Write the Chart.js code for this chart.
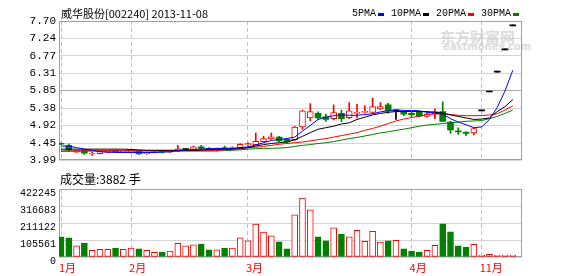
<!DOCTYPE html>
<html>
<head>
<meta charset="utf-8">
<script src="https://cdn.jsdelivr.net/npm/chart.js@4.4.1/dist/chart.umd.min.js"></script>
<style>
  html, body { margin: 0; padding: 0; background: #fff; }
  #wrap { position: relative; width: 578px; height: 276px; overflow: hidden; }
  #priceBox { position: absolute; left: 0; top: 0; }
  #volBox { position: absolute; left: 0; top: 170px; }
  .txt { position: absolute; white-space: nowrap; color: #000; line-height: 1; }
  #title { left: 61px; top: 5px; font: 11px "Noto Sans CJK SC", sans-serif; }
  #volTitle { left: 60px; top: 170px; font: 12px "Noto Sans CJK SC", sans-serif; }
  #legend { position: absolute; left: 352px; top: 9px; display: flex; font: 10px "Liberation Mono", monospace; line-height: 1; }
  #legend .item { display: flex; align-items: center; margin-right: 7px; }
  #legend .item i { display: inline-block; width: 6px; height: 3px; margin-left: 2px; }
  #mark1 { left: 440px; top: 26px; font: bold 15px "Noto Sans CJK SC", sans-serif; color: #dcdcdc; }
  #mark2 { left: 443px; top: 41px; font: bold 10px "DejaVu Sans", sans-serif; color: #dcdcdc; }
</style>
</head>
<body>
<div id="wrap">
  <div class="txt" id="mark1">东方财富网</div>
  <div class="txt" id="mark2">eastmoney.com</div>
  <div id="priceBox"><canvas id="priceChart" width="578" height="170"></canvas></div>
  <div id="volBox"><canvas id="volChart" width="578" height="106"></canvas></div>
  <div class="txt" id="title">威华股份[002240] 2013-11-08</div>
  <div id="legend"></div>
  <div class="txt" id="volTitle">成交量:3882 手</div>
</div>
<script>
// month gridlines sit on these candle indexes
const monthIdx = [0, 9, 24, 45, 54];
const monthLabels = ['1月', '2月', '3月', '4月', '11月'];
const priceTicks = [3.99, 4.45, 4.92, 5.38, 5.85, 6.31, 6.77, 7.24, 7.70];
const volTicks = [0, 105561, 211122, 316683, 422245];

// daily candles
const opens = [4.43, 4.39, 4.21, 4.26, 4.16, 4.17, 4.20, 4.26, 4.21, 4.20,
  4.23, 4.17, 4.20, 4.23, 4.21, 4.23, 4.28, 4.28, 4.35, 4.31,
  4.28, 4.32, 4.30, 4.33, 4.40, 4.41, 4.49, 4.56, 4.61, 4.55,
  4.54, 4.88, 5.12, 5.24, 5.15, 5.10, 5.24, 5.13, 5.24, 5.27,
  5.27, 5.36, 5.47, 5.31, 5.27, 5.24, 5.27, 5.16, 5.22, 5.29,
  5.01, 4.78, 4.73, 4.72, 5.31, 5.81, 6.34, 6.93, 7.57];
const highs = [4.46, 4.43, 4.27, 4.28, 4.21, 4.25, 4.24, 4.27, 4.25, 4.26,
  4.24, 4.21, 4.23, 4.25, 4.24, 4.39, 4.30, 4.37, 4.39, 4.33,
  4.32, 4.37, 4.35, 4.44, 4.46, 4.72, 4.63, 4.72, 4.63, 4.57,
  4.90, 5.33, 5.50, 5.28, 5.22, 5.47, 5.33, 5.53, 5.48, 5.44,
  5.65, 5.53, 5.51, 5.31, 5.30, 5.27, 5.28, 5.26, 5.36, 5.55,
  5.03, 4.86, 4.76, 4.85, 5.31, 5.81, 6.34, 6.93, 7.57];
const lows = [4.40, 4.22, 4.20, 4.15, 4.12, 4.16, 4.19, 4.21, 4.20, 4.19,
  4.15, 4.15, 4.19, 4.19, 4.20, 4.22, 4.26, 4.27, 4.29, 4.26,
  4.24, 4.28, 4.29, 4.31, 4.38, 4.40, 4.48, 4.55, 4.49, 4.46,
  4.52, 4.82, 5.05, 5.08, 5.03, 5.07, 5.02, 5.10, 5.12, 5.25,
  5.25, 5.34, 5.25, 5.08, 5.18, 5.13, 5.15, 5.14, 5.10, 5.02,
  4.71, 4.68, 4.65, 4.67, 5.31, 5.81, 6.34, 6.93, 7.57];
const closes = [4.42, 4.27, 4.26, 4.18, 4.18, 4.24, 4.23, 4.22, 4.23, 4.25,
  4.16, 4.20, 4.22, 4.21, 4.23, 4.30, 4.28, 4.35, 4.31, 4.28,
  4.31, 4.30, 4.33, 4.42, 4.44, 4.50, 4.57, 4.62, 4.51, 4.48,
  4.88, 5.31, 5.29, 5.12, 5.08, 5.26, 5.10, 5.31, 5.26, 5.29,
  5.42, 5.42, 5.31, 5.31, 5.22, 5.21, 5.17, 5.23, 5.29, 5.03,
  4.80, 4.75, 4.71, 4.84, 5.31, 5.81, 6.34, 6.93, 7.57];
const volumes = [125000, 119000, 69000, 87000, 42000, 48000, 48000, 56000, 48000, 56000,
  50000, 42000, 29000, 31000, 37000, 85000, 69000, 75000, 81000, 44000,
  44000, 56000, 56000, 119000, 100000, 204000, 154000, 131000, 94000, 50000,
  262000, 366000, 293000, 125000, 100000, 181000, 143000, 125000, 166000, 98000,
  160000, 92000, 100000, 104000, 50000, 37000, 31000, 42000, 73000, 206000,
  156000, 69000, 62000, 79000, 6000, 17000, 4000, 4000, 3882];

// moving averages as drawn in the picture
const ma5 = [4.37, 4.37, 4.33, 4.29, 4.26, 4.22, 4.21, 4.20, 4.20, 4.20,
  4.20, 4.20, 4.20, 4.21, 4.22, 4.25, 4.27, 4.28, 4.29, 4.30,
  4.31, 4.31, 4.31, 4.33, 4.35, 4.40, 4.46, 4.52, 4.55, 4.57,
  4.61, 4.77, 4.92, 5.08, 5.14, 5.18, 5.20, 5.19, 5.19, 5.21,
  5.23, 5.28, 5.31, 5.33, 5.32, 5.32, 5.31, 5.27, 5.25, 5.22,
  5.10, 5.01, 4.94, 4.86, 4.88, 5.08, 5.40, 5.84, 6.39];
const ma10 = [4.29, 4.29, 4.29, 4.29, 4.29, 4.29, 4.29, 4.29, 4.29, 4.28,
  4.27, 4.26, 4.26, 4.26, 4.26, 4.26, 4.26, 4.26, 4.27, 4.28,
  4.28, 4.29, 4.29, 4.30, 4.33, 4.37, 4.41, 4.44, 4.46, 4.48,
  4.54, 4.63, 4.73, 4.82, 4.86, 4.90, 4.96, 4.99, 5.08, 5.14,
  5.20, 5.24, 5.27, 5.29, 5.29, 5.29, 5.29, 5.29, 5.27, 5.25,
  5.20, 5.16, 5.12, 5.08, 5.09, 5.12, 5.29, 5.42, 5.61];
const ma20 = [4.23, 4.24, 4.24, 4.25, 4.25, 4.25, 4.25, 4.25, 4.25, 4.25,
  4.25, 4.25, 4.25, 4.25, 4.25, 4.25, 4.25, 4.25, 4.25, 4.25,
  4.26, 4.27, 4.29, 4.31, 4.33, 4.34, 4.36, 4.39, 4.42, 4.44,
  4.46, 4.48, 4.51, 4.54, 4.57, 4.61, 4.65, 4.69, 4.73, 4.79,
  4.84, 4.90, 4.97, 5.04, 5.09, 5.13, 5.17, 5.21, 5.23, 5.23,
  5.21, 5.19, 5.18, 5.18, 5.18, 5.20, 5.23, 5.33, 5.44];
const ma30 = [4.24, 4.24, 4.24, 4.24, 4.24, 4.24, 4.24, 4.24, 4.24, 4.24,
  4.24, 4.24, 4.24, 4.24, 4.24, 4.24, 4.24, 4.24, 4.24, 4.24,
  4.24, 4.25, 4.26, 4.27, 4.29, 4.30, 4.31, 4.31, 4.32, 4.33,
  4.36, 4.39, 4.41, 4.44, 4.46, 4.49, 4.53, 4.57, 4.60, 4.64,
  4.68, 4.72, 4.75, 4.79, 4.82, 4.86, 4.90, 4.93, 4.95, 4.97,
  4.99, 5.01, 5.03, 5.04, 5.05, 5.10, 5.16, 5.24, 5.33];

const maNames = ['5PMA', '10PMA', '20PMA', '30PMA'];
const maSeries = [ma5, ma10, ma20, ma30];
const maColors = ['#0000ff', '#000000', '#ff0000', '#008000'];

const RED = '#ff0000';
const GREEN = '#008000';
const FRAME = '#a0a0a0';
const idx = opens.map((_, i) => i);

function candleColor(i) {
  if (closes[i] > opens[i]) return RED;
  if (closes[i] < opens[i]) return GREEN;
  return '#000000';
}
const isUp = i => closes[i] >= opens[i];

// html legend: name then a small colour bar
const legendEl = document.getElementById('legend');
maNames.forEach((name, k) => {
  legendEl.insertAdjacentHTML('beforeend',
    `<span class="item">${name}<i style="background:${maColors[k]}"></i></span>`);
});

const framePlugin = {
  id: 'frame',
  beforeDatasetsDraw(chart) {
    const { ctx, chartArea: a } = chart;
    ctx.save();
    ctx.strokeStyle = FRAME;
    ctx.lineWidth = 1;
    ctx.strokeRect(Math.round(a.left) + 0.5, Math.round(a.top) + 0.5,
      Math.round(a.width) - 1, Math.round(a.height) - 1);
    ctx.restore();
  }
};

const monoFont = { family: 'Liberation Mono', size: 11 };

function xAxis(showLabels) {
  return {
    type: 'linear',
    min: -0.257,
    max: 59.18,
    offset: false,
    afterBuildTicks: s => { s.ticks = monthIdx.map(v => ({ value: v })); },
    afterFit: s => { s.height = showLabels ? 19 : 0; },
    ticks: {
      display: showLabels,
      autoSkip: false,
      maxRotation: 0,
      align: 'start',
      labelOffset: -2,
      padding: 4,
      color: RED,
      font: { family: 'Noto Sans CJK SC', size: 11 },
      callback: (v, i) => monthLabels[i]
    },
    grid: { color: '#c0c0c0', drawTicks: false, offset: false },
    border: { display: false, dash: [4, 3] }
  };
}

new Chart(document.getElementById('priceChart'), {
  type: 'bar',
  data: {
    datasets: [
      {
        label: 'wick',
        data: idx.map(i => ({ x: i, y: [lows[i], highs[i]] })),
        backgroundColor: idx.map(candleColor),
        barThickness: 1,
        minBarLength: 1,
        grouped: false,
        order: 2
      },
      {
        label: 'body',
        data: idx.map(i => ({ x: i, y: [opens[i], closes[i]] })),
        backgroundColor: idx.map(i => closes[i] > opens[i] ? '#ffffff' : candleColor(i)),
        borderColor: idx.map(candleColor),
        borderWidth: idx.map(i => closes[i] > opens[i] ? 1 : 0),
        borderSkipped: false,
        barThickness: 6,
        minBarLength: 1,
        grouped: false,
        order: 1
      },
      ...maNames.map((name, k) => ({
        type: 'line',
        label: name,
        data: idx.map(i => ({ x: i, y: maSeries[k][i] })),
        borderColor: maColors[k],
        borderWidth: 1,
        pointRadius: 0,
        tension: 0,
        order: 0
      }))
    ]
  },
  options: {
    responsive: false,
    animation: false,
    devicePixelRatio: 1,
    layout: { padding: { left: 0, right: 56, top: 21, bottom: 4 } },
    plugins: { legend: { display: false }, tooltip: { enabled: false } },
    scales: {
      x: xAxis(false),
      y: {
        min: 3.99,
        max: 7.70,
        afterBuildTicks: s => { s.ticks = priceTicks.map(v => ({ value: v })); },
        afterFit: s => { s.width = 59; },
        ticks: {
          autoSkip: false,
          padding: 3,
          color: '#000',
          font: monoFont,
          callback: v => v.toFixed(2)
        },
        grid: {
          color: ctx => ctx.index === 4 ? '#a8a8a8' : '#d4d4d4',
          drawTicks: false
        },
        border: { display: false }
      }
    }
  },
  plugins: [framePlugin]
});

new Chart(document.getElementById('volChart'), {
  type: 'bar',
  data: {
    datasets: [{
      label: '成交量',
      data: idx.map(i => ({ x: i, y: volumes[i] })),
      backgroundColor: idx.map(i => isUp(i) ? '#ffffff' : GREEN),
      borderColor: idx.map(i => isUp(i) ? RED : GREEN),
      borderWidth: 1,
      borderSkipped: false,
      barThickness: 6,
      minBarLength: 2
    }]
  },
  options: {
    responsive: false,
    animation: false,
    devicePixelRatio: 1,
    layout: { padding: { left: 0, right: 56, top: 19, bottom: 0 } },
    plugins: { legend: { display: false }, tooltip: { enabled: false } },
    scales: {
      x: xAxis(true),
      y: {
        min: 0,
        max: 422245,
        afterBuildTicks: s => { s.ticks = volTicks.map(v => ({ value: v })); },
        afterFit: s => { s.width = 59; },
        ticks: {
          autoSkip: false,
          padding: 3,
          labelOffset: 4,
          color: '#000',
          font: { family: 'Liberation Mono', size: 10 },
          callback: v => String(v)
        },
        grid: { color: '#d4d4d4', drawTicks: false },
        border: { display: false }
      }
    }
  },
  plugins: [framePlugin]
});
</script>
</body>
</html>
